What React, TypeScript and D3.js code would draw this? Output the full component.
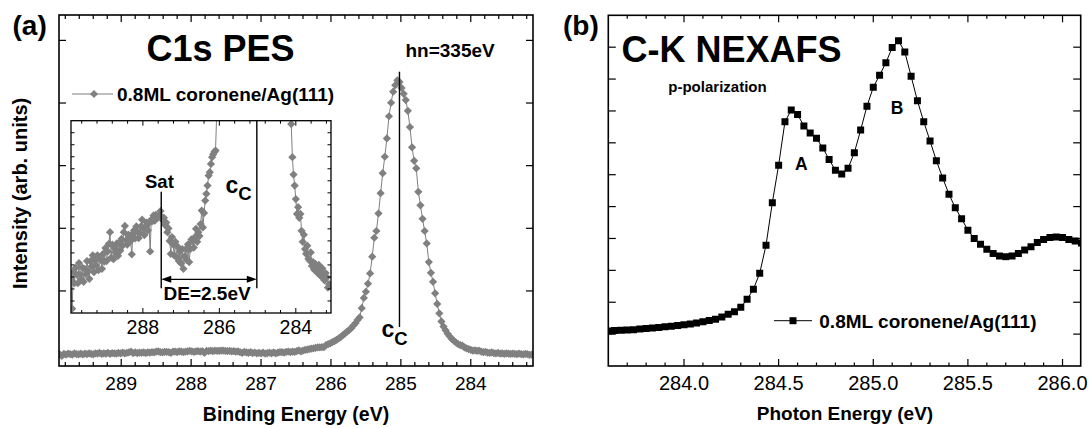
import React from 'react';
import * as d3 from 'd3';

// ---------------- Panel (a): C1s PES, 0.8ML coronene/Ag(111) ----------------
// binding-energy scan: first point and step (eV), intensities in arb. units
const PES_E_START = 289.88;
const PES_E_STEP = 0.03;
const PES_INTENSITY = [
  -0.66, -1.29, -0.53, -0.76, -0.44, -0.58, -0.76, -0.34, -0.58, -0.68,
  -0.44, -0.73, -0.46, -0.57, -0.30, -0.51, -0.67, -0.30, -0.41, -0.18,
  -0.53, -0.28, -0.39, -0.18, -0.49, -0.25, -0.28, -0.46, -0.15, -0.31,
  -0.03, -0.30, -0.10, 0.06, 0.30, -0.23, 0.04, -0.26, -0.03, -0.12,
  0.07, -0.19, 0.07, -0.08, 0.16, 0.02, 0.30, 0.43, 0.13, 0.04,
  0.25, 0.21, 0.12, -0.16, 0.28, 0.34, 0.17, 0.42, 0.31, 0.18,
  0.28, 0.42, 0.56, 0.38, 0.24, 0.42, 0.50, 0.34, 0.49, -0.10,
  0.56, 0.53, 0.65, 0.54, 0.66, 0.61, 0.62, 0.66, 0.74, 0.62,
  0.55, 0.60, 0.45, 0.50, 0.30, 0.38, 0.12, -0.15, 0.20, 0.05,
  -0.18, 0.10, -0.22, 0.00, -0.30, -0.10, -0.35, -0.05, -0.46, -0.20,
  -0.05, -0.28, 0.05, -0.32, -0.05, 0.15, 0.12, -0.02, 0.20, 0.37,
  0.10, 0.30, 0.22, 0.47, 0.75, 0.40, 0.70, 0.96, 1.10, 1.27,
  1.48, 1.55, 1.72, 1.86, 1.92, 1.97, 2.00, 2.75, 3.10, 3.40,
  3.80, 4.20, 4.70, 5.20, 5.70, 6.40, 7.00, 7.70, 8.30, 9.00,
  10.0, 10.8, 12.0, 13.0, 16.4, 20.2, 22.5, 25.5, 29.3, 35.5,
  42.5, 45.0, 51.5, 59.0, 66.4, 72.5, 79.3, 87.5, 92.5, 96.6,
  99.0, 100.8, 100.2, 98.0, 95.8, 93.5, 89.5, 83.5, 76.0, 71.0,
  68.2, 59.5, 54.5, 49.5, 45.0, 40.4, 33.5, 29.5, 26.2, 21.9,
  18.0, 14.5, 11.5, 9.6, 8.2, 6.9, 5.9, 5.0, 4.3, 3.7,
  3.1, 2.70, 2.55, 1.86, 1.50, 1.27, 0.99, 0.68, 0.82, 0.60,
  0.68, 0.33, 0.10, 0.25, -0.05, -0.15, 0.02, -0.25, -0.29, -0.12,
  -0.40, -0.32, -0.48, -0.36, -0.43, -0.55, -0.38, -0.50, -0.62, -0.45,
  -0.57, -0.70, -0.55, -0.64, -0.85, -0.78,
];
const PES_X_MAJOR = [289, 288, 287, 286, 285, 284];
const PES_Y_TICKS = [22.8, 46.0, 69.2, 92.4, 115.6];
const INSET_X_MAJOR = [288, 286, 284];
const SAT_E = 287.52;
const CC_E = 285.02;

// ---------------- Panel (b): C-K NEXAFS ----------------
const NEX_E_START = 283.6;
const NEX_E_STEP = 1 / 30;
const NEX_INTENSITY = [
  1.10, 1.11, 1.12, 1.13, 1.14, 1.16, 1.18, 1.19, 1.21, 1.23,
  1.25, 1.27, 1.29, 1.32, 1.35, 1.39, 1.43, 1.47, 1.54, 1.62,
  1.70, 1.84, 2.09, 2.41, 2.91, 3.79, 5.12, 6.30, 7.66, 8.03,
  7.89, 7.53, 7.31, 7.14, 6.84, 6.48, 6.14, 6.02, 6.20, 6.69,
  7.40, 8.15, 8.74, 9.12, 9.51, 9.99, 10.20, 9.85, 9.09, 8.32,
  7.66, 7.06, 6.44, 5.90, 5.39, 4.96, 4.62, 4.26, 4.00, 3.82,
  3.66, 3.53, 3.45, 3.43, 3.45, 3.53, 3.64, 3.74, 3.87, 3.97,
  4.03, 4.05, 4.03, 3.97, 3.92, 3.86,
];
const NEX_X_MAJOR = [284.0, 284.5, 285.0, 285.5, 286.0];

// ---------------- layout ----------------
const W = 1089;
const H = 428;
const FONT = '"Liberation Sans", Arial, Helvetica, sans-serif';
const GREY = '#808080';
const FA = { left: 59, right: 533, top: 15, bottom: 366 };
const FI = { left: 71, right: 331, top: 120.7, bottom: 313 };
const FB = { left: 608.3, right: 1080.7, top: 15.3, bottom: 366 };

function frange(a: number, b: number, step: number, dec: number) {
  const out: number[] = [];
  const n = Math.round((b - a) / step);
  for (let k = 0; k <= n; k++) out.push(+(a + k * step).toFixed(dec));
  return out;
}

function XTicks({ scale, frame, major, minor, lenMaj, lenMin, sw }: any) {
  const items: any[] = [];
  const all = [...major.map((v: number) => [v, lenMaj]), ...minor.map((v: number) => [v, lenMin])];
  all.forEach(([v, len]: any, i: number) => {
    const x = scale(v);
    if (x < frame.left + 0.5 || x > frame.right - 0.5) return;
    items.push(<line key={'b' + i} x1={x} x2={x} y1={frame.bottom} y2={frame.bottom - len} stroke="#000" strokeWidth={sw} />);
    items.push(<line key={'t' + i} x1={x} x2={x} y1={frame.top} y2={frame.top + len} stroke="#000" strokeWidth={sw} />);
  });
  return <g>{items}</g>;
}

function YTicks({ scale, frame, values, len, sw }: any) {
  return (
    <g>
      {values.map((v: number, i: number) => {
        const y = scale(v);
        if (y < frame.top + 0.5 || y > frame.bottom - 0.5) return null;
        return (
          <g key={i}>
            <line x1={frame.left} x2={frame.left + len} y1={y} y2={y} stroke="#000" strokeWidth={sw} />
            <line x1={frame.right} x2={frame.right - len} y1={y} y2={y} stroke="#000" strokeWidth={sw} />
          </g>
        );
      })}
    </g>
  );
}

function Frame({ f, sw }: any) {
  return <rect x={f.left} y={f.top} width={f.right - f.left} height={f.bottom - f.top} fill="none" stroke="#000" strokeWidth={sw} />;
}

export default function App() {
  const pes = PES_INTENSITY.map((v, i) => ({ e: PES_E_START - i * PES_E_STEP, v }));
  const nex = NEX_INTENSITY.map((v, i) => ({ e: NEX_E_START + i * NEX_E_STEP, v }));

  const xA = d3.scaleLinear().domain([289.89, 283.11]).range([FA.left, FA.right]);
  const yA = d3.scaleLinear().domain([-5, 125]).range([FA.bottom, FA.top]);
  const xI = d3.scaleLinear().domain([289.88, 283.08]).range([FI.left, FI.right]);
  const yI = d3.scaleLinear().domain([-1.38, 2.62]).range([FI.bottom, FI.top]);
  const xB = d3.scaleLinear().domain([283.6, 286.096]).range([FB.left, FB.right]);
  const yB = d3.scaleLinear().domain([0, 11]).range([FB.bottom, FB.top]);

  const lineA = d3.line<any>().x((d) => xA(d.e)).y((d) => yA(d.v));
  const lineI = d3.line<any>().x((d) => xI(d.e)).y((d) => yI(d.v));
  const lineB = d3.line<any>().x((d) => xB(d.e)).y((d) => yB(d.v));
  const diamond = d3.symbol().type(d3.symbolSquare).size(34)() as string;
  const square = d3.symbol().type(d3.symbolSquare).size(49)() as string;

  const pesMinor = frange(283.2, 289.8, 0.2, 1).filter((v) => Math.abs(v - Math.round(v)) > 1e-6);
  const insetMinor = frange(283.2, 289.6, 0.4, 1).filter((v) => !INSET_X_MAJOR.some((m) => Math.abs(m - v) < 1e-6));
  const insetY = frange(-1.13, 2.62, 0.25, 2);
  const nexMinor = frange(283.6, 286.0, 0.1, 1).filter((v) => !NEX_X_MAJOR.some((m) => Math.abs(m - v) < 1e-6));
  const nexY = frange(1, 10, 1, 0);

  const xSatI = xI(SAT_E);
  const xCcI = xI(CC_E);
  const yArrow = 279.3;
  const xCcA = xA(CC_E);

  return (
    <svg width={W} height={H} style={{ position: 'absolute', left: 0, top: 0, background: '#fff' }} fontFamily={FONT}>
      <defs>
        <clipPath id="clipA"><rect x={FA.left} y={FA.top} width={FA.right - FA.left} height={FA.bottom - FA.top} /></clipPath>
        <clipPath id="clipI"><rect x={FI.left} y={FI.top} width={FI.right - FI.left} height={FI.bottom - FI.top} /></clipPath>
        <clipPath id="clipB"><rect x={FB.left} y={FB.top} width={FB.right - FB.left} height={FB.bottom - FB.top} /></clipPath>
      </defs>
      <rect x={0} y={0} width={W} height={H} fill="#fff" />

      {/* ===== Panel (a) ===== */}
      <g clipPath="url(#clipA)">
        <path d={lineA(pes) as string} fill="none" stroke={GREY} strokeWidth={1} />
        {pes.map((d, i) => (
          <path key={i} d={diamond} transform={`translate(${xA(d.e)},${yA(d.v)}) rotate(45)`} fill={GREY} />
        ))}
      </g>
      <XTicks scale={xA} frame={FA} major={PES_X_MAJOR} minor={pesMinor} lenMaj={7} lenMin={4} sw={1.2} />
      <YTicks scale={yA} frame={FA} values={PES_Y_TICKS} len={7} sw={1.2} />
      <Frame f={FA} sw={1.6} />
      {PES_X_MAJOR.map((v) => (
        <text key={v} x={xA(v)} y={390} textAnchor="middle" fontSize={19}>{v}</text>
      ))}

      {/* inset */}
      <rect x={FI.left} y={FI.top} width={FI.right - FI.left} height={FI.bottom - FI.top} fill="#fff" />
      <g clipPath="url(#clipI)">
        <path d={lineI(pes) as string} fill="none" stroke={GREY} strokeWidth={1} />
        {pes.map((d, i) => (
          <path key={i} d={diamond} transform={`translate(${xI(d.e)},${yI(d.v)}) rotate(45)`} fill={GREY} />
        ))}
      </g>
      <XTicks scale={xI} frame={FI} major={INSET_X_MAJOR} minor={insetMinor} lenMaj={5} lenMin={3} sw={1} />
      <YTicks scale={yI} frame={FI} values={insetY} len={3.5} sw={1} />
      <Frame f={FI} sw={1.3} />
      {INSET_X_MAJOR.map((v) => (
        <text key={v} x={xI(v)} y={333.5} textAnchor="middle" fontSize={19.5}>{v}</text>
      ))}
      {/* Sat / Cc markers and DE arrow */}
      <line x1={xSatI} x2={xSatI} y1={191.7} y2={288.3} stroke="#000" strokeWidth={1.4} />
      <line x1={xCcI} x2={xCcI} y1={FI.top} y2={288.3} stroke="#000" strokeWidth={1.4} />
      <line x1={xSatI + 6} x2={xCcI - 6} y1={yArrow} y2={yArrow} stroke="#000" strokeWidth={1.3} />
      <path d={`M${xSatI},${yArrow}L${xSatI + 10},${yArrow - 3.5}L${xSatI + 10},${yArrow + 3.5}Z`} fill="#000" />
      <path d={`M${xCcI},${yArrow}L${xCcI - 10},${yArrow - 3.5}L${xCcI - 10},${yArrow + 3.5}Z`} fill="#000" />
      <text x={145} y={188} fontSize={18.5} fontWeight="bold">Sat</text>
      <text x={163.5} y={300} fontSize={19} fontWeight="bold">DE=2.5eV</text>
      <text x={225.5} y={193.3} fontWeight="bold">
        <tspan fontSize={23}>c</tspan>
        <tspan fontSize={18.5} dy={7}>C</tspan>
      </text>

      {/* main Cc line */}
      <line x1={xCcA} x2={xCcA} y1={71.7} y2={327} stroke="#000" strokeWidth={1.4} />
      <text x={381.5} y={336.7} fontWeight="bold">
        <tspan fontSize={23}>c</tspan>
        <tspan fontSize={18.5} dy={8}>C</tspan>
      </text>

      {/* legend (a) */}
      <line x1={72} x2={113} y1={94} y2={94} stroke={GREY} strokeWidth={1} />
      <path d={diamond} transform="translate(94,94) rotate(45)" fill={GREY} />
      <text x={117} y={100.5} fontSize={19} fontWeight="bold">0.8ML coronene/Ag(111)</text>

      <text x={12.5} y={35} fontSize={28} fontWeight="bold">(a)</text>
      <text x={146.5} y={60.7} fontSize={36} fontWeight="bold">C1s PES</text>
      <text x={405.5} y={57} fontSize={19} fontWeight="bold">hn=335eV</text>
      <text x={296} y={421} textAnchor="middle" fontSize={19.5} fontWeight="bold">Binding Energy (eV)</text>
      <text transform="translate(27,193.4) rotate(-90)" textAnchor="middle" fontSize={20} fontWeight="bold">Intensity (arb. units)</text>

      {/* ===== Panel (b) ===== */}
      <g clipPath="url(#clipB)">
        <path d={lineB(nex) as string} fill="none" stroke="#000" strokeWidth={1} />
        {nex.map((d, i) => (
          <path key={i} d={square} transform={`translate(${xB(d.e)},${yB(d.v)})`} fill="#000" />
        ))}
      </g>
      <XTicks scale={xB} frame={FB} major={NEX_X_MAJOR} minor={nexMinor} lenMaj={7} lenMin={3.5} sw={1.2} />
      <YTicks scale={yB} frame={FB} values={nexY} len={7.5} sw={1.2} />
      <Frame f={FB} sw={1.6} />
      {NEX_X_MAJOR.map((v) => (
        <text key={v} x={xB(v)} y={390} textAnchor="middle" fontSize={20}>{v.toFixed(1)}</text>
      ))}

      <text x={563} y={35} fontSize={28} fontWeight="bold">(b)</text>
      <text x={621.5} y={61.7} fontSize={36} fontWeight="bold">C-K NEXAFS</text>
      <text x={668.3} y={91.5} fontSize={15} fontWeight="bold">p-polarization</text>
      <text x={795} y={170} fontSize={17.5} fontWeight="bold">A</text>
      <text x={890.7} y={114.3} fontSize={17.5} fontWeight="bold">B</text>

      {/* legend (b) */}
      <line x1={774} x2={812} y1={320.7} y2={320.7} stroke="#000" strokeWidth={1} />
      <path d={square} transform="translate(793,320.7)" fill="#000" />
      <text x={819.3} y={328.3} fontSize={19} fontWeight="bold">0.8ML coronene/Ag(111)</text>

      <text x={845} y={420} textAnchor="middle" fontSize={19} fontWeight="bold">Photon Energy (eV)</text>
    </svg>
  );
}
